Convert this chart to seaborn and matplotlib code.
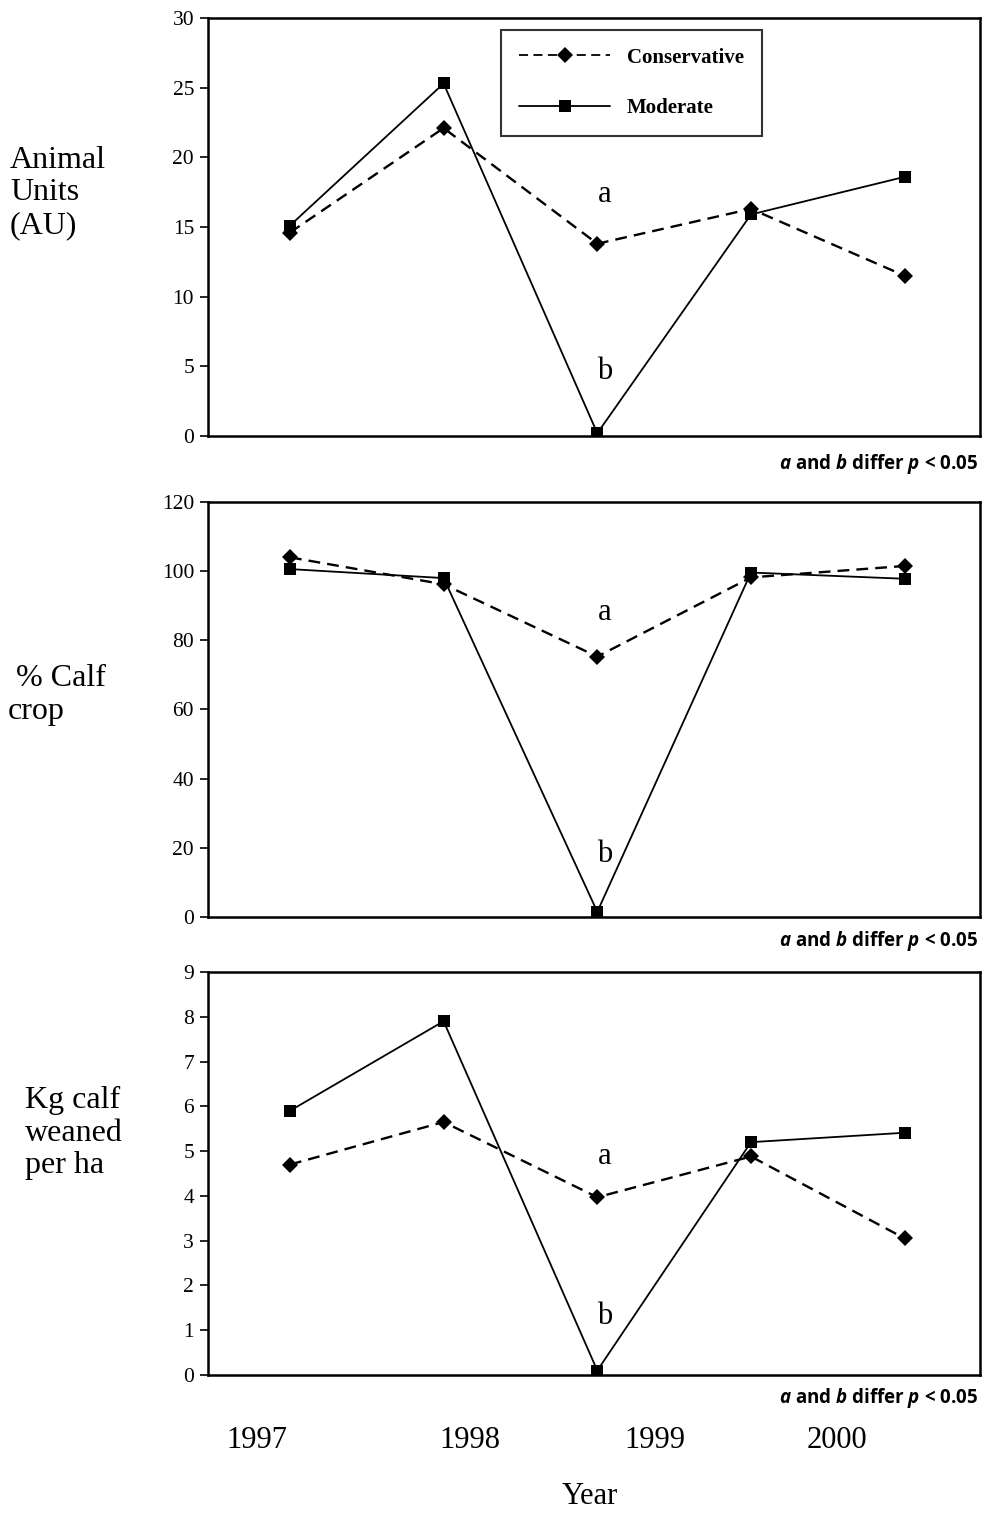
import matplotlib
matplotlib.use("Agg")
import matplotlib.pyplot as plt
import seaborn as sns
import pandas as pd

# five sampling points per treatment
periods = [0, 1, 2, 3, 4]
treatments = ["Conservative", "Moderate"]

au_conservative = [14.6, 22.1, 13.8, 16.3, 11.5]
au_moderate = [15.1, 25.3, 0.2, 15.9, 18.6]

calf_conservative = [104.0, 96.2, 75.3, 98.2, 101.5]
calf_moderate = [100.6, 98.0, 1.5, 99.6, 97.8]

kg_conservative = [4.7, 5.65, 3.97, 4.88, 3.05]
kg_moderate = [5.9, 7.9, 0.1, 5.2, 5.41]

year_labels = ["1997", "1998", "1999", "2000"]

ylabels = ["Animal\nUnits\n(AU)", " % Calf\ncrop", "Kg calf\nweaned\nper ha"]
ylims = [(0, 30), (0, 120), (0, 9)]
yticks = [range(0, 31, 5), range(0, 121, 20), range(0, 10, 1)]
letter_a = [17.3, 88, 4.87]
letter_b = [4.6, 18, 1.3]

sns.set_style("ticks")
plt.rcParams["font.family"] = ["Liberation Serif", "DejaVu Serif"]
plt.rcParams["text.color"] = "black"
plt.rcParams["ytick.color"] = "black"
plt.rcParams["ytick.labelcolor"] = "black"
plt.rcParams["mathtext.fontset"] = "custom"
plt.rcParams["mathtext.bfit"] = "Open Sans:italic:bold"
plt.rcParams["mathtext.rm"] = "Open Sans:bold"

W, H = 986, 1513
fig = plt.figure(figsize=(W / 100, H / 100), dpi=100)


def fx(px):
    return px / W


def fy(py):
    return 1 - py / H


# axes boxes in pixels (left, top, right, bottom)
boxes = [(208, 18, 980, 436), (208, 502, 980, 917), (208, 972, 980, 1375)]
ylabel_pos = [(10, 193), (8, 695), (25, 1133)]
foot_y = [464, 941, 1398]

series = [(au_conservative, au_moderate),
          (calf_conservative, calf_moderate),
          (kg_conservative, kg_moderate)]

for i, (l, t, r, b) in enumerate(boxes):
    ax = fig.add_axes([fx(l), fy(b), fx(r - l), (b - t) / H])
    cons, mod = series[i]
    df = pd.DataFrame({
        "period": periods * 2,
        "value": cons + mod,
        "treatment": ["Conservative"] * 5 + ["Moderate"] * 5,
    })
    sns.lineplot(data=df, x="period", y="value", hue="treatment", style="treatment",
                 palette={"Conservative": "black", "Moderate": "black"},
                 markers={"Conservative": "D", "Moderate": "s"},
                 dashes={"Conservative": (5, 3), "Moderate": ""},
                 markersize=8, markeredgewidth=0, linewidth=1.3,
                 legend=(i == 0), ax=ax)
    # thicker dashed line for conservative
    ax.lines[0].set_linewidth(1.7)
    ax.set_xlim(-0.533, 4.49)
    ax.set_ylim(*ylims[i])
    ax.set_yticks(list(yticks[i]))
    ax.set_xticks([])
    ax.set_xlabel("")
    ax.set_ylabel("")
    ax.tick_params(axis="y", labelsize=15.5, length=6, width=1.2, direction="out", pad=4,
                   colors="black")
    for s in ax.spines.values():
        s.set_visible(True)
        s.set_linewidth(1.8)
        s.set_color("black")
    ax.text(2.05, letter_a[i], "a", fontsize=22, ha="center", va="center")
    ax.text(2.05, letter_b[i], "b", fontsize=22, ha="center", va="center")

    lx, ly = ylabel_pos[i]
    fig.text(fx(lx), fy(ly), ylabels[i], fontsize=23, ha="left", va="center",
             linespacing=1.15)
    fig.text(fx(978), fy(foot_y[i]),
             r"$\mathbfit{a}$ and $\mathbfit{b}$ differ $\mathbfit{p}$ < 0.05",
             fontsize=13.5, family="Open Sans", fontweight="bold",
             ha="right", va="center")

    if i == 0:
        leg = ax.legend(loc="upper left",
                        bbox_to_anchor=((501 - l) / (r - l), 1 - (30 - t) / (b - t)),
                        borderaxespad=0,
                        frameon=True, fancybox=False, edgecolor="black",
                        handlelength=4.4, labelspacing=1.45, borderpad=0.85,
                        prop={"size": 15, "weight": "bold"}, title=None)
        leg.get_frame().set_linewidth(1.5)
        for h in leg.get_lines():
            h.set_color("black")
        for txt in leg.get_texts():
            txt.set_color("black")

year_x = [257, 470, 655, 837]
for yx, lab in zip(year_x, year_labels):
    fig.text(fx(yx), fy(1440), lab, fontsize=22, ha="center", va="center")
fig.text(fx(590), fy(1497), "Year", fontsize=22, ha="center", va="center")

fig.savefig("out.png", dpi=100, facecolor="white")
